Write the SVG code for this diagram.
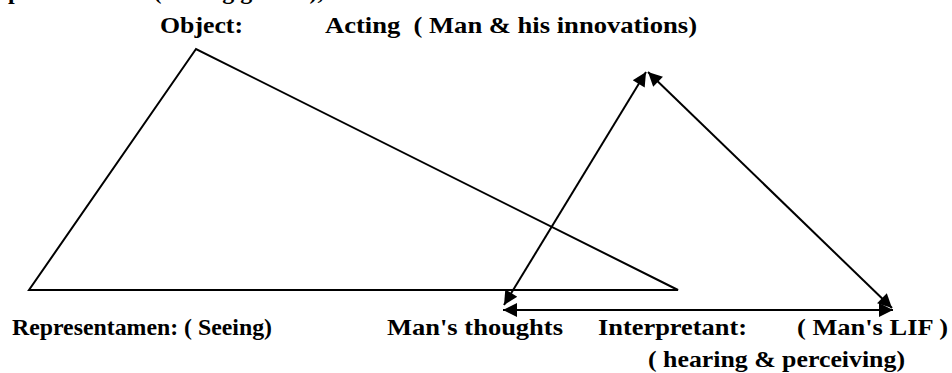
<svg xmlns="http://www.w3.org/2000/svg" width="952" height="373" viewBox="0 0 952 373">
<style>
text{font-family:"Liberation Serif","Times New Roman",serif;font-weight:bold;fill:#000}
.top{font-size:24px}
.bot{font-size:23px}
.ln{stroke:#000;stroke-width:2;fill:none}
</style>
<defs>
<marker id="ahb" viewBox="0 0 10 10" refX="10" refY="5" markerWidth="18" markerHeight="14" orient="auto-start-reverse" markerUnits="userSpaceOnUse">
<path d="M0,0L10,5L0,10z" fill="#000"/>
</marker>
</defs>
<rect width="952" height="373" fill="#fff"/>
<text class="top" x="-20" y="-1">Representamen: ( Seeing glasses),</text>
<g id="object"><text class="top" x="160" y="33" textLength="83" lengthAdjust="spacingAndGlyphs">Object:</text></g>
<g id="acting"><text class="top" x="325" y="33" textLength="372" lengthAdjust="spacingAndGlyphs" xml:space="preserve">Acting  ( Man &amp; his innovations)</text></g>
<g id="representamen"><text class="bot" x="12" y="335" textLength="260" lengthAdjust="spacingAndGlyphs">Representamen: ( Seeing)</text></g>
<g id="thoughts"><text class="bot" x="387" y="335" textLength="176" lengthAdjust="spacingAndGlyphs">Man's thoughts</text></g>
<g id="interpretant"><text class="bot" x="598" y="335" textLength="149" lengthAdjust="spacingAndGlyphs">Interpretant:</text></g>
<g id="lif"><text class="bot" x="797" y="335" textLength="151" lengthAdjust="spacingAndGlyphs">( Man's LIF )</text></g>
<g id="hearing"><text class="bot" x="648" y="367" textLength="257" lengthAdjust="spacingAndGlyphs">( hearing &amp; perceiving)</text></g>
<g id="triangle1">
<polygon class="ln" points="196,49 29,290 678,290"/>
</g>
<g id="connectors">
<line class="ln" x1="504" y1="305" x2="646" y2="72" marker-start="url(#ahb)" marker-end="url(#ahb)"/>
<line class="ln" x1="648" y1="72" x2="892" y2="308" marker-start="url(#ahb)" marker-end="url(#ahb)"/>
<line class="ln" x1="503" y1="310" x2="893" y2="310" marker-start="url(#ahb)" marker-end="url(#ahb)"/>
</g>
</svg>
